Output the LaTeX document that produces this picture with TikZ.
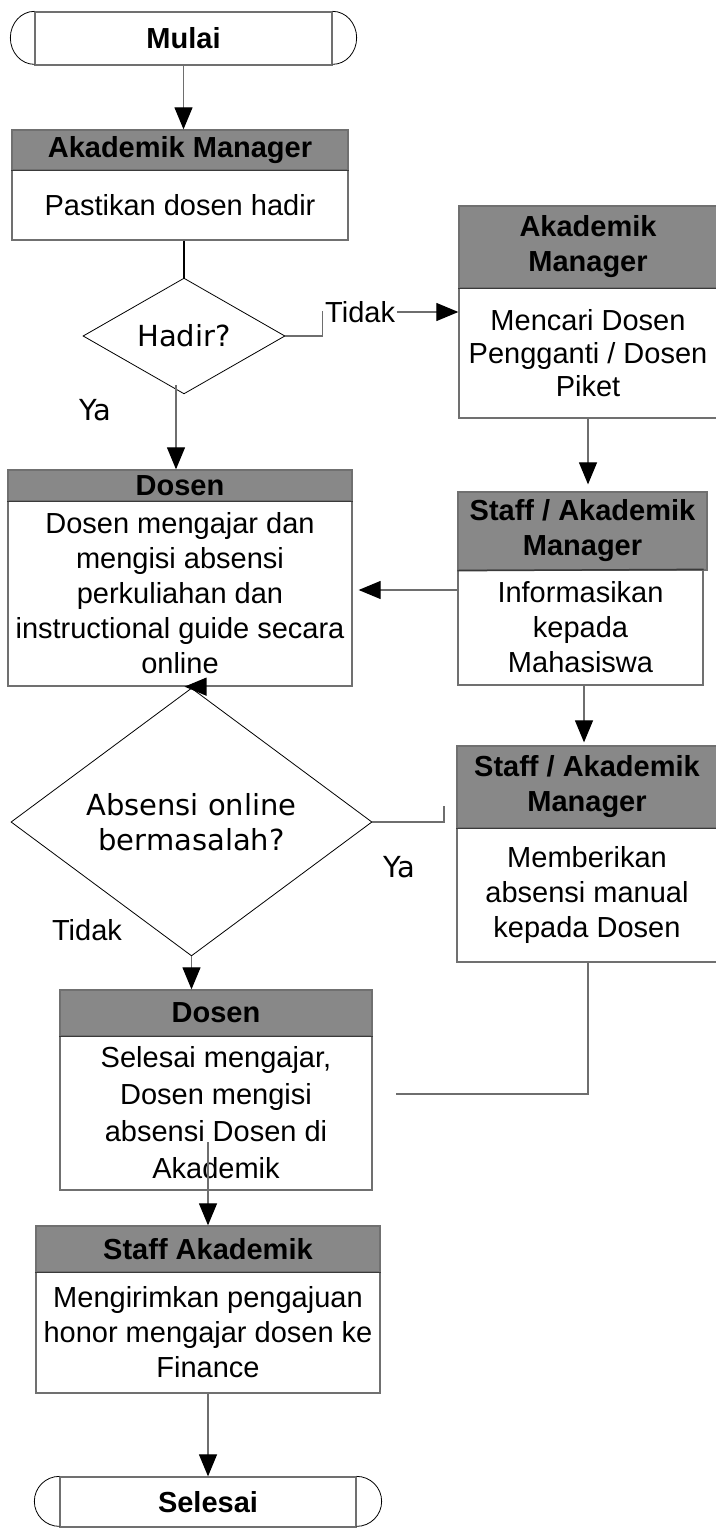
\documentclass[tikz,border=0pt]{standalone}
\usepackage{fontspec}
\setmainfont{Liberation Sans}
\newfontfamily\dvfont{DejaVu Sans}
\usetikzlibrary{shapes.geometric,arrows.meta,calc}
\definecolor{bord}{HTML}{707070}
\definecolor{hdrfill}{HTML}{888888}
\definecolor{divc}{HTML}{3A3A3A}
\definecolor{conncol}{HTML}{6E6E6E}
\newcommand{\fsz}{\fontsize{29}{35}\selectfont}
\newcommand{\fszb}{\fontsize{29}{33}\selectfont}
\begin{document}
\begin{tikzpicture}[x=1pt,y=-1pt,
 hdr/.style={draw=bord, fill=hdrfill, line width=1.3pt, font=\fsz\bfseries, align=center, inner sep=0pt},
 bodybox/.style={draw=bord, fill=white, line width=1.3pt, font=\fsz, align=center, inner sep=0pt},
 divline/.style={draw=divc, line width=1.5pt},
 dec/.style={diamond, draw=black, line width=0.8pt, inner sep=0pt, font=\dvfont\fsz, align=center},
 conn/.style={draw=conncol, line width=1.2pt},
 arr/.style={conn, -{Triangle[length=22pt,width=18pt,black]}},
 lbl/.style={font=\fsz, inner sep=2pt},
 lbldv/.style={font=\dvfont\fsz, inner sep=0pt},
 term/.style={draw=bord, line width=1.3pt, font=\fsz\bfseries, inner sep=0pt},
 arcline/.style={draw=black, line width=0.8pt}
]
\useasboundingbox (0,0) rectangle (715,1528);

% start terminal
\node[term, minimum width=297pt, minimum height=53pt] (start) at (183.5,38.5) {Mulai};
\draw[arcline] (start.north west) arc[start angle=90,end angle=270,x radius=24pt,y radius=26.5pt];
\draw[arcline] (start.north east) arc[start angle=90,end angle=-90,x radius=24pt,y radius=26.5pt];

% box 1
\node[hdr, minimum width=336pt, minimum height=40pt] (h1) at (180,150) {Akademik Manager};
\node[bodybox, minimum width=336pt, minimum height=70pt] (b1) at (180,205) {Pastikan dosen hadir};
\draw[divline] (h1.south west) -- (h1.south east);

% decision 1
\node[dec, minimum width=202pt, minimum height=115pt] (d1) at (184,336) {Hadir?};

% right box: Akademik Manager
\node[hdr, minimum width=258pt, minimum height=82pt] (b2h) at (588,247) {Akademik\\Manager};
\node[bodybox, minimum width=258pt, minimum height=130pt, font=\fszb] (b2) at (588,353) {Mencari Dosen\\Pengganti / Dosen\\Piket};
\draw[divline] (b2h.south west) -- (b2h.south east);

% Dosen box
\node[hdr, minimum width=344pt, minimum height=31pt] (dh) at (180,485.5) {Dosen};
\node[bodybox, minimum width=344pt, minimum height=185pt] (db) at (180,593.5) {Dosen mengajar dan\\mengisi absensi\\perkuliahan dan\\instructional guide secara\\online};
\draw[divline] (dh.south west) -- (dh.south east);

% Staff box 1
\node[hdr, minimum width=249pt, minimum height=78pt] (s1h) at (582.5,531) {Staff / Akademik\\Manager};
\node[bodybox, minimum width=245pt, minimum height=115pt] (s1) at (580.5,627.5) {Informasikan\\kepada\\Mahasiswa};
\draw[divline] (s1h.south west) -- (s1.north east);

% decision 2
\node[dec, minimum width=361pt, minimum height=167pt] (d2) at (191.5,822) {Absensi online\\bermasalah?};

% Staff box 2
\node[hdr, minimum width=260pt, minimum height=82pt] (s2h) at (587,787) {Staff / Akademik\\Manager};
\node[bodybox, minimum width=260pt, minimum height=134pt] (s2) at (587,895) {Memberikan\\absensi manual\\kepada Dosen};
\draw[divline] (s2h.south west) -- (s2h.south east);

% Dosen box 2
\node[hdr, minimum width=312pt, minimum height=46pt] (dsh) at (216,1013) {Dosen};
\node[bodybox, minimum width=312pt, minimum height=154pt, font=\fontsize{29}{37}\selectfont] (dsb) at (216,1113) {Selesai mengajar,\\Dosen mengisi\\absensi Dosen di\\Akademik};
\draw[divline] (dsh.south west) -- (dsh.south east);

% Staff Akademik box
\node[hdr, minimum width=344pt, minimum height=46pt] (sah) at (208,1249) {Staff Akademik};
\node[bodybox, minimum width=344pt, minimum height=121pt] (sab) at (208,1332.5) {Mengirimkan pengajuan\\honor mengajar dosen ke\\Finance};
\draw[divline] (sah.south west) -- (sah.south east);

% end terminal
\node[term, minimum width=296pt, minimum height=50pt] (stop) at (208,1502) {Selesai};
\draw[arcline] (stop.north west) arc[start angle=90,end angle=270,x radius=25pt,y radius=25pt];
\draw[arcline] (stop.north east) arc[start angle=90,end angle=-90,x radius=25pt,y radius=25pt];

% labels
\node[lbl, anchor=west] (t1) at (323,312) {Tidak};
\node[lbldv] (ya1) at (95,410) {Ya};
\node[lbldv] (ya2) at (399,867) {Ya};
\node[lbl] (t2) at (87,930) {Tidak};

% connectors
\draw[arr] (start.south) -- (start.south |- h1.north);
\draw[line width=1.2pt, black] (d1.north |- b1.south) -- (d1.north);
\draw[conn] (d1.east) -- ++(37,0) |- (t1.west);
\draw[arr] (t1.east) -- (t1.east -| b2.west);
\coordinate (c1) at (176,385);
\draw[arr] (c1) -- (c1 |- dh.north);
\draw[arr] (b2.south) -- ($(b2.south |- s1h.north)+(0,-7)$);
\draw[arr] ($(s1.west)+(0,-37.5)$) -- ($(s1.west -| db.east)+(6,-37.5)$);
\coordinate (p1) at ($(s1.south)+(3.5,0)$);
\draw[arr] (p1) -- ($(p1 |- s2h.north)+(0,-3)$);
\coordinate (p2) at (d2.north |- db.south);
\draw[arr] (d2.north) -- (p2) -- ++(-7,0);
\coordinate (p3) at (444,806);
\draw[conn] (d2.east) -| (p3);
\draw[arr] (d2.south) -- (d2.south |- dsh.north);
\coordinate (p4) at (396,1094);
\draw[conn] ($(s2.south)+(1,0)$) |- (p4);
\coordinate (p5) at (208,1142);
\draw[arr] (p5) -- (sah.north);
\draw[arr] (sab.south) -- (stop.north);
\end{tikzpicture}
\end{document}
